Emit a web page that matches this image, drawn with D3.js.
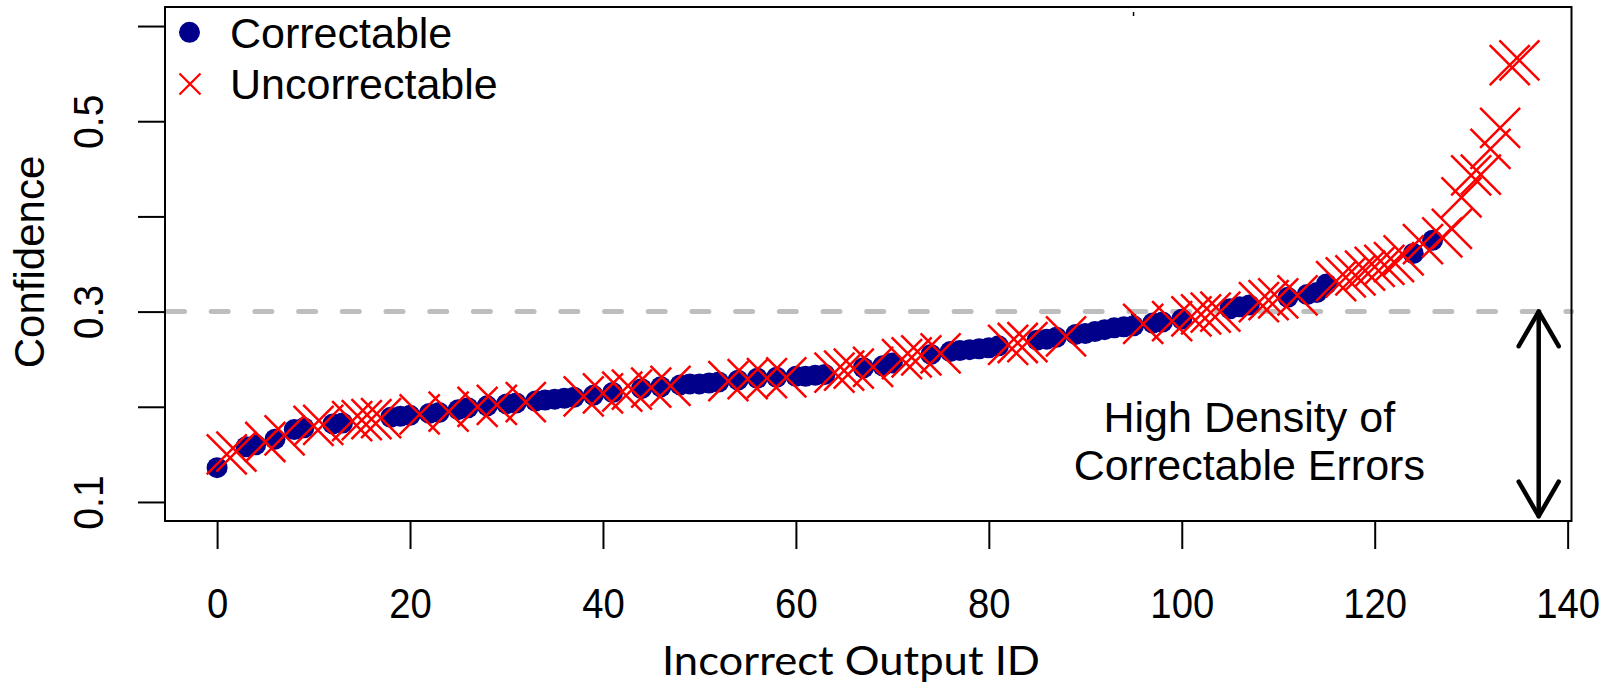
<!DOCTYPE html>
<html>
<head>
<meta charset="utf-8">
<script src="https://cdn.jsdelivr.net/npm/d3@7"></script>
<style>
  body { margin: 0; background: #ffffff; }
  svg { display: block; }
</style>
</head>
<body>
<svg id="chart" width="1612" height="685"></svg>
<script>
// Confidence of every incorrect output, sorted ascending (array index = output ID)
const confidence = [
  0.136, 0.150, 0.153, 0.158, 0.160, 0.163, 0.166, 0.170, 0.176, 0.178,
  0.180, 0.181, 0.182, 0.183, 0.185, 0.186, 0.187, 0.188, 0.189, 0.190,
  0.191, 0.192, 0.193, 0.194, 0.195, 0.197, 0.199, 0.200, 0.201, 0.202,
  0.203, 0.204, 0.205, 0.206, 0.207, 0.208, 0.209, 0.210, 0.211, 0.212,
  0.214, 0.215, 0.216, 0.218, 0.219, 0.220, 0.221, 0.222, 0.223, 0.224,
  0.224, 0.225, 0.226, 0.227, 0.228, 0.229, 0.230, 0.230, 0.231, 0.231,
  0.232, 0.232, 0.233, 0.234, 0.236, 0.238, 0.240, 0.241, 0.242, 0.243,
  0.246, 0.250, 0.252, 0.254, 0.255, 0.256, 0.258, 0.259, 0.260, 0.261,
  0.262, 0.264, 0.265, 0.267, 0.268, 0.270, 0.271, 0.273, 0.274, 0.276,
  0.277, 0.279, 0.281, 0.283, 0.284, 0.285, 0.287, 0.288, 0.289, 0.290,
  0.292, 0.295, 0.297, 0.299, 0.300, 0.303, 0.305, 0.307, 0.310, 0.312,
  0.314, 0.315, 0.317, 0.318, 0.320, 0.329, 0.332, 0.336, 0.338, 0.343,
  0.347, 0.349, 0.352, 0.359, 0.361, 0.371, 0.375, 0.378, 0.387, 0.420,
  0.443, 0.444, 0.471, 0.493, 0.559, 0.564
];

// Output IDs whose errors are uncorrectable (all others are correctable)
const uncorrectableIds = [
  1, 2, 5, 7, 10, 11, 14, 15, 16, 17, 21, 24, 27, 29, 32,
  38, 40, 42, 43, 45, 47, 53, 55, 57, 59,
  64, 65, 66, 68, 71, 72, 73, 75, 82, 83, 84, 88,
  96, 99, 101, 102, 103, 104, 108, 109, 110, 112,
  116, 117, 118, 119, 120, 121, 122, 123, 125,
  127, 128, 129, 130, 131, 132, 133, 134, 135
];

const xTicks = [0, 20, 40, 60, 80, 100, 120, 140];
const yTicks = [0.1, 0.2, 0.3, 0.4, 0.5, 0.6];
const yTickLabels = ["0.1", "", "0.3", "", "0.5", ""];
const xLimits = [0, 135];
const yLimits = [0.1, 0.6];

const thresholdLevel = [0.3];
const arrowId = [137];
const arrowSpan = [0.3, 0.085];
const noteLines = ["High Density of", "Correctable Errors"];
const noteAnchor = [107, 0.1735, 0.123];
const stray = { id: 95, values: [0.298, 0.6126] };
const legendLabels = ["Correctable", "Uncorrectable"];

const colCorrect = "#00008b";
const colUncorrect = "#ff0000";
const FONT = "'Liberation Sans', Arial, Helvetica, sans-serif";

// ---- scales (R style 4% padding around the limits) ----
const padX = (xLimits[1] - xLimits[0]) * 0.04;
const padY = (yLimits[1] - yLimits[0]) * 0.04;
const box = { left: 165, right: 1571.5, top: 7, bottom: 521 };

const x = d3.scaleLinear()
  .domain([xLimits[0] - padX, xLimits[1] + padX])
  .range([box.left, box.right]);
const y = d3.scaleLinear()
  .domain([yLimits[0] - padY, yLimits[1] + padY])
  .range([box.bottom, box.top]);

const svg = d3.select("#chart");

const uSet = new Set(uncorrectableIds);
const points = confidence.map((v, i) => ({ id: i, v, u: uSet.has(i) }));

// stray black marks at ID 95
svg.append("path")
  .attr("d", d3.symbol().type(d3.symbolTriangle).size(40)())
  .attr("transform", `translate(${x(stray.id)},${y(stray.values[0])}) rotate(180)`)
  .attr("fill", "#000");
svg.append("line")
  .attr("x1", x(stray.id)).attr("x2", x(stray.id))
  .attr("y1", y(stray.values[1]) - 2).attr("y2", y(stray.values[1]) + 2)
  .attr("stroke", "#000").attr("stroke-width", 1.5);

// threshold line
svg.append("line")
  .attr("x1", box.left).attr("x2", box.right)
  .attr("y1", y(thresholdLevel[0])).attr("y2", y(thresholdLevel[0]))
  .attr("stroke", "#bebebe")
  .attr("stroke-width", 5)
  .attr("stroke-linecap", "round")
  .attr("stroke-dasharray", "17 26.7")
  .attr("stroke-dashoffset", -2.5);

// correctable points
svg.append("g")
  .selectAll("circle")
  .data(points.filter(d => !d.u))
  .join("circle")
  .attr("cx", d => x(d.id))
  .attr("cy", d => y(d.v))
  .attr("r", 10.5)
  .attr("fill", colCorrect);

// uncorrectable points (crosses)
const H = 20;
svg.append("g")
  .selectAll("path")
  .data(points.filter(d => d.u))
  .join("path")
  .attr("d", d => {
    const cx = x(d.id), cy = y(d.v);
    return `M${cx - H},${cy - H}L${cx + H},${cy + H}M${cx - H},${cy + H}L${cx + H},${cy - H}`;
  })
  .attr("stroke", colUncorrect)
  .attr("stroke-width", 2.5)
  .attr("fill", "none");

// double-headed arrow
const ax = x(arrowId[0]);
const ay0 = y(arrowSpan[0]), ay1 = y(arrowSpan[1]);
const hl = 40, hw = hl * Math.sin(Math.PI / 6), hh = hl * Math.cos(Math.PI / 6);
const arrow = svg.append("g")
  .attr("stroke", "#000").attr("stroke-width", 4.5)
  .attr("stroke-linecap", "round").attr("stroke-linejoin", "round").attr("fill", "none");
arrow.append("line").attr("x1", ax).attr("x2", ax).attr("y1", ay0).attr("y2", ay1);
arrow.append("path").attr("d", `M${ax - hw},${ay0 + hh}L${ax},${ay0}L${ax + hw},${ay0 + hh}`);
arrow.append("path").attr("d", `M${ax - hw},${ay1 - hh}L${ax},${ay1}L${ax + hw},${ay1 - hh}`);

// annotation
svg.append("g")
  .selectAll("text")
  .data(noteLines)
  .join("text")
  .attr("x", x(noteAnchor[0]))
  .attr("y", (d, i) => y(noteAnchor[1 + i]))
  .attr("text-anchor", "middle")
  .attr("font-family", FONT)
  .attr("font-size", 43)
  .attr("fill", "#000")
  .text(d => d);

// plot box
svg.append("rect")
  .attr("x", box.left).attr("y", box.top)
  .attr("width", box.right - box.left).attr("height", box.bottom - box.top)
  .attr("fill", "none").attr("stroke", "#000").attr("stroke-width", 2);

// condensed tick labels
function condense(sel, k) {
  sel.each(function () {
    const w = this.getComputedTextLength();
    d3.select(this).attr("textLength", w * k).attr("lengthAdjust", "spacingAndGlyphs");
  });
}

// x axis
const gx = svg.append("g")
  .attr("transform", `translate(0,${box.bottom})`)
  .call(d3.axisBottom(x).tickValues(xTicks).tickSize(28).tickSizeOuter(0).tickFormat(d3.format("d")));
gx.select(".domain").remove();
gx.selectAll(".tick line").attr("stroke", "#000").attr("stroke-width", 2);
gx.selectAll(".tick text")
  .attr("y", 97).attr("dy", null)
  .attr("font-family", FONT).attr("font-size", 43).attr("fill", "#000")
  .call(condense, 0.89);
svg.append("line")
  .attr("x1", x(xTicks[0])).attr("x2", x(xTicks[xTicks.length - 1]))
  .attr("y1", box.bottom).attr("y2", box.bottom)
  .attr("stroke", "#000").attr("stroke-width", 2);

// y axis
const gy = svg.append("g")
  .attr("transform", `translate(${box.left},0)`)
  .call(d3.axisLeft(y).tickValues(yTicks).tickSize(27).tickSizeOuter(0)
    .tickFormat((d, i) => yTickLabels[i]));
gy.select(".domain").remove();
gy.selectAll(".tick line").attr("stroke", "#000").attr("stroke-width", 2);
gy.selectAll(".tick text")
  .attr("x", null).attr("dy", null)
  .attr("transform", "translate(-62,0) rotate(-90)")
  .attr("text-anchor", "middle")
  .attr("font-family", FONT).attr("font-size", 43).attr("fill", "#000")
  .filter(function () { return this.textContent !== ""; })
  .call(condense, 0.91);

// axis titles
svg.append("text")
  .attr("x", 851).attr("y", 675)
  .attr("text-anchor", "middle")
  .attr("font-family", "Lato, 'Open Sans', sans-serif")
  .attr("font-size", 40)
  .attr("textLength", 378).attr("lengthAdjust", "spacingAndGlyphs")
  .attr("fill", "#000")
  .text("Incorrect Output ID");

svg.append("text")
  .attr("transform", "translate(43.5,262) rotate(-90)")
  .attr("text-anchor", "middle")
  .attr("font-family", FONT)
  .attr("font-size", 42)
  .attr("fill", "#000")
  .text("Confidence");

// legend
const lg = svg.append("g");
lg.append("circle").attr("cx", 189.5).attr("cy", 32.3).attr("r", 10.5).attr("fill", colCorrect);
const lh = 10.5;
lg.append("path")
  .attr("d", `M${190 - lh},${84 - lh}L${190 + lh},${84 + lh}M${190 - lh},${84 + lh}L${190 + lh},${84 - lh}`)
  .attr("stroke", colUncorrect).attr("stroke-width", 2.3).attr("fill", "none");
lg.selectAll("text")
  .data(legendLabels)
  .join("text")
  .attr("x", 230)
  .attr("y", (d, i) => [47.7, 99.3][i])
  .attr("font-family", FONT)
  .attr("font-size", 43)
  .attr("fill", "#000")
  .text(d => d);
</script>
</body>
</html>
